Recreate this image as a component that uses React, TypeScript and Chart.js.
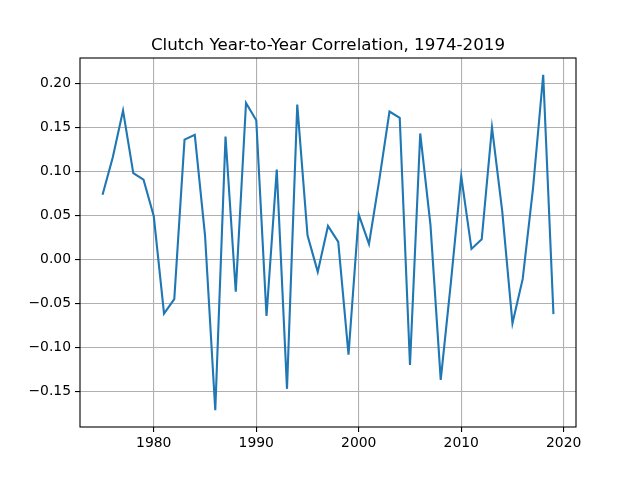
import React, { useEffect, useRef } from "react";
import { Chart, registerables } from "chart.js";

Chart.register(...registerables);

const chartTitle = "Clutch Year-to-Year Correlation, 1974-2019";

const years = [
  1975, 1976, 1977, 1978, 1979, 1980, 1981, 1982, 1983, 1984,
  1985, 1986, 1987, 1988, 1989, 1990, 1991, 1992, 1993, 1994,
  1995, 1996, 1997, 1998, 1999, 2000, 2001, 2002, 2003, 2004,
  2005, 2006, 2007, 2008, 2009, 2010, 2011, 2012, 2013, 2014,
  2015, 2016, 2017, 2018, 2019,
];

const correlation = [
  0.0735, 0.116, 0.169, 0.098, 0.0905, 0.049, -0.0615, -0.045, 0.136, 0.1414,
  0.0275, -0.171, 0.1395, -0.0366, 0.1776, 0.158, -0.064, 0.102, -0.1467, 0.1757,
  0.0275, -0.014, 0.038, 0.02, -0.108, 0.051, 0.0177, 0.09, 0.1678, 0.1606,
  -0.1196, 0.143, 0.039, -0.1365, -0.025, 0.0946, 0.012, 0.023, 0.15, 0.055,
  -0.0724, -0.022, 0.08, 0.2096, -0.062,
];

const xTicks = [1980, 1990, 2000, 2010, 2020];
const xTickLabels = ["1980", "1990", "2000", "2010", "2020"];
const yTicks = [-0.15, -0.1, -0.05, 0.0, 0.05, 0.1, 0.15, 0.2];
const yTickLabels = ["\u22120.15", "\u22120.10", "\u22120.05", "0.00", "0.05", "0.10", "0.15", "0.20"];

const FONT = "'DejaVu Sans', sans-serif";

export default function App() {
  const canvasRef = useRef<HTMLCanvasElement | null>(null);

  useEffect(() => {
    document.body.style.margin = "0";
    const canvas = canvasRef.current;
    if (!canvas) return;

    const framePlugin = {
      id: "frameAndTitle",
      afterDraw(chart: any) {
        const { ctx, chartArea } = chart;
        ctx.save();
        ctx.strokeStyle = "#000000";
        ctx.lineWidth = 1.1;
        ctx.strokeRect(
          chartArea.left,
          chartArea.top,
          chartArea.right - chartArea.left,
          chartArea.bottom - chartArea.top
        );
        ctx.fillStyle = "#000000";
        ctx.font = `16.7px ${FONT}`;
        ctx.textAlign = "center";
        ctx.textBaseline = "alphabetic";
        ctx.fillText(chartTitle, (chartArea.left + chartArea.right) / 2, chartArea.top - 8.5);
        ctx.restore();
      },
    };

    const chart = new Chart(canvas, {
      type: "line",
      data: {
        datasets: [
          {
            data: years.map((y, i) => ({ x: y, y: correlation[i] })),
            borderColor: "#1f77b4",
            borderWidth: 2.1,
            pointRadius: 0,
            tension: 0,
            fill: false,
          },
        ],
      },
      options: {
        animation: false,
        responsive: false,
        devicePixelRatio: 1,
        layout: { padding: { left: 0, right: 64, top: 58, bottom: 0 } },
        plugins: {
          legend: { display: false },
          title: { display: false },
          tooltip: { enabled: false },
        },
        scales: {
          x: {
            type: "linear",
            min: 1972.8,
            max: 2021.2,
            afterBuildTicks: (scale: any) => {
              scale.ticks = xTicks.map((v) => ({ value: v }));
            },
            afterFit: (scale: any) => {
              scale.height = 53;
            },
            ticks: {
              autoSkip: false,
              maxRotation: 0,
              padding: 3,
              color: "#000000",
              font: { family: FONT, size: 13.9 },
              callback: (v: any) => {
                const i = xTicks.indexOf(Number(v));
                return i >= 0 ? xTickLabels[i] : "";
              },
            },
            grid: {
              color: "#b0b0b0",
              lineWidth: 1.1,
              drawTicks: true,
              tickLength: 5,
              tickColor: "#000000",
              tickWidth: 1.1,
            },
            border: { display: false },
          },
          y: {
            type: "linear",
            min: -0.19,
            max: 0.2286,
            afterBuildTicks: (scale: any) => {
              scale.ticks = yTicks.map((v) => ({ value: v }));
            },
            afterFit: (scale: any) => {
              scale.width = 80;
            },
            ticks: {
              autoSkip: false,
              padding: 4,
              color: "#000000",
              font: { family: FONT, size: 13.9 },
              callback: (v: any) => {
                const i = yTicks.findIndex((t) => Math.abs(t - Number(v)) < 1e-9);
                return i >= 0 ? yTickLabels[i] : "";
              },
            },
            grid: {
              color: "#b0b0b0",
              lineWidth: 1.1,
              drawTicks: true,
              tickLength: 5,
              tickColor: "#000000",
              tickWidth: 1.1,
            },
            border: { display: false },
          },
        },
      },
      plugins: [framePlugin],
    });

    return () => {
      chart.destroy();
    };
  }, []);

  return (
    <div style={{ position: "fixed", left: 0, top: 0, width: 640, height: 480, background: "#ffffff" }}>
      <canvas ref={canvasRef} width={640} height={480} />
    </div>
  );
}
